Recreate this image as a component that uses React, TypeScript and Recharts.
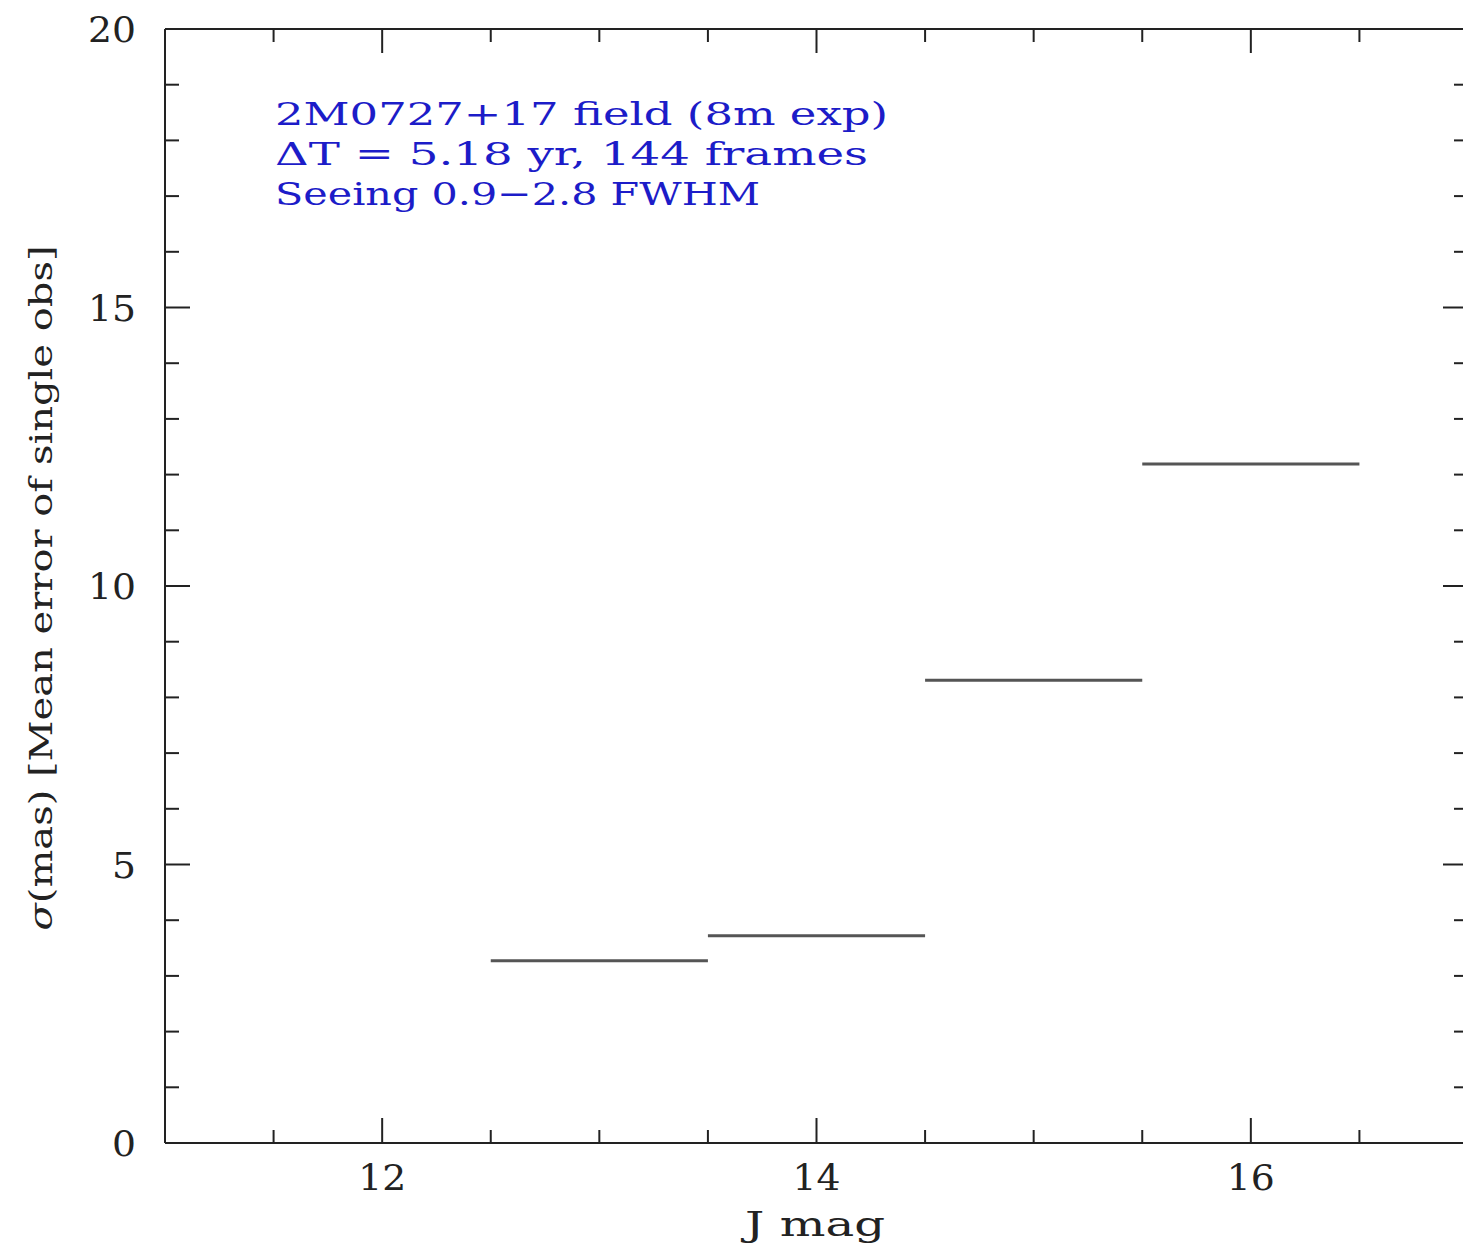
import React from "react";
import { Line, LineChart, XAxis, YAxis } from "recharts";

// bins in J mag and the mean single-obs error (mas) of each
const binStarts = [12.5, 13.5, 14.5, 15.5];
const binEnds = [13.5, 14.5, 15.5, 16.5];
const sigmaMas = [3.27, 3.72, 8.31, 12.19];

const xTicks = [11.5, 12, 12.5, 13, 13.5, 14, 14.5, 15, 15.5, 16, 16.5];
const xLabelled = [12, 14, 16];
const yTicks = [0, 1, 2, 3, 4, 5, 6, 7, 8, 9, 10, 11, 12, 13, 14, 15, 16, 17, 18, 19, 20];
const yLabelled = [0, 5, 10, 15, 20];

const noteLines = [
  "2M0727+17 field (8m exp)",
  "ΔT = 5.18 yr, 144 frames",
  "Seeing 0.9−2.8 FWHM",
];
const noteWidths = [613, 593, 485];

const INK = "#222";
const FONT = "'DejaVu Serif', 'Liberation Serif', serif";

const segments = sigmaMas.map((s, i) => [
  { x: binStarts[i], y: s },
  { x: binEnds[i], y: s },
]);

function TickText({ x, y, anchor, value }: any) {
  const s = String(value);
  return (
    <text x={x} y={y} textAnchor={anchor} dominantBaseline="central" fill={INK}
      fontFamily={FONT} fontSize={35} textLength={s.length * 24} lengthAdjust="spacingAndGlyphs">
      {s}
    </text>
  );
}

function BottomTick({ x, y, payload }: any) {
  const major = xLabelled.includes(payload.value);
  return (
    <g>
      <line x1={x} x2={x} y1={y} y2={y - (major ? 25 : 13)} stroke={INK} strokeWidth={2} />
      {major && <TickText x={x} y={y + 35} anchor="middle" value={payload.value} />}
    </g>
  );
}

function TopTick({ x, y, payload }: any) {
  const major = xLabelled.includes(payload.value);
  return <line x1={x} x2={x} y1={y} y2={y + (major ? 24 : 13)} stroke={INK} strokeWidth={2} />;
}

function LeftTick({ x, y, payload }: any) {
  const major = yLabelled.includes(payload.value);
  return (
    <g>
      <line x1={x} x2={x + (major ? 25 : 14)} y1={y} y2={y} stroke={INK} strokeWidth={2} />
      {major && <TickText x={x - 29} y={y + 1} anchor="end" value={payload.value} />}
    </g>
  );
}

function RightTick({ x, y, payload }: any) {
  const major = yLabelled.includes(payload.value);
  return <line x1={x} x2={x - (major ? 25 : 14)} y1={y} y2={y} stroke={INK} strokeWidth={2} />;
}

const XTitle = ({ viewBox }: any) => (
  <text x={viewBox.x + 650} y={1236} textAnchor="middle" fill={INK} fontFamily={FONT}
    fontSize={33} textLength={140} lengthAdjust="spacingAndGlyphs">
    J mag
  </text>
);

const YTitle = () => (
  <text x={0} y={0} transform="translate(52,588) rotate(-90)" textAnchor="middle" fill={INK}
    fontFamily={FONT} fontSize={32} textLength={685} lengthAdjust="spacingAndGlyphs">
    <tspan fontStyle="italic">σ</tspan>(mas) [Mean error of single obs]
  </text>
);

export default function App() {
  return (
    <div style={{ position: "absolute", left: 0, top: 0, width: 1463, height: 1251, overflow: "hidden", background: "#fff" }}>
      <LineChart width={1470} height={1251} margin={{ top: 0, right: 0, bottom: 0, left: 0 }}>
        <XAxis
          xAxisId="b"
          dataKey="x"
          type="number"
          domain={[11, 17]}
          allowDataOverflow
          ticks={xTicks}
          interval={0}
          height={108}
          tickSize={0}
          tickMargin={0}
          tickLine={false}
          tick={<BottomTick />}
          axisLine={{ stroke: INK, strokeWidth: 2 }}
          label={<XTitle />}
        />
        <XAxis
          xAxisId="t"
          dataKey="x"
          orientation="top"
          type="number"
          domain={[11, 17]}
          allowDataOverflow
          ticks={xTicks}
          interval={0}
          height={29}
          tickSize={0}
          tickMargin={0}
          tickLine={false}
          tick={<TopTick />}
          axisLine={{ stroke: INK, strokeWidth: 2 }}
        />
        <YAxis
          yAxisId="l"
          type="number"
          domain={[0, 20]}
          allowDataOverflow
          ticks={yTicks}
          interval={0}
          width={165}
          tickSize={0}
          tickMargin={0}
          tickLine={false}
          tick={<LeftTick />}
          axisLine={{ stroke: INK, strokeWidth: 2 }}
          label={<YTitle />}
        />
        <YAxis
          yAxisId="r"
          orientation="right"
          type="number"
          domain={[0, 20]}
          allowDataOverflow
          ticks={yTicks}
          interval={0}
          width={2}
          tickSize={0}
          tickMargin={0}
          tickLine={false}
          tick={<RightTick />}
          axisLine={{ stroke: INK, strokeWidth: 2 }}
        />
        {segments.map((seg, i) => (
          <Line
            key={i}
            xAxisId="b"
            yAxisId="l"
            data={seg}
            dataKey="y"
            type="linear"
            dot={false}
            activeDot={false}
            stroke="#555"
            strokeWidth={3}
            isAnimationActive={false}
          />
        ))}
      </LineChart>
      <svg width={1463} height={1251} style={{ position: "absolute", left: 0, top: 0, pointerEvents: "none" }}>
        {noteLines.map((t, i) => (
          <text key={i} x={275} y={125 + i * 40} textLength={noteWidths[i]} lengthAdjust="spacingAndGlyphs"
            fill="#1c1cc8" fontFamily={FONT} fontSize={32}>
            {t}
          </text>
        ))}
      </svg>
    </div>
  );
}
